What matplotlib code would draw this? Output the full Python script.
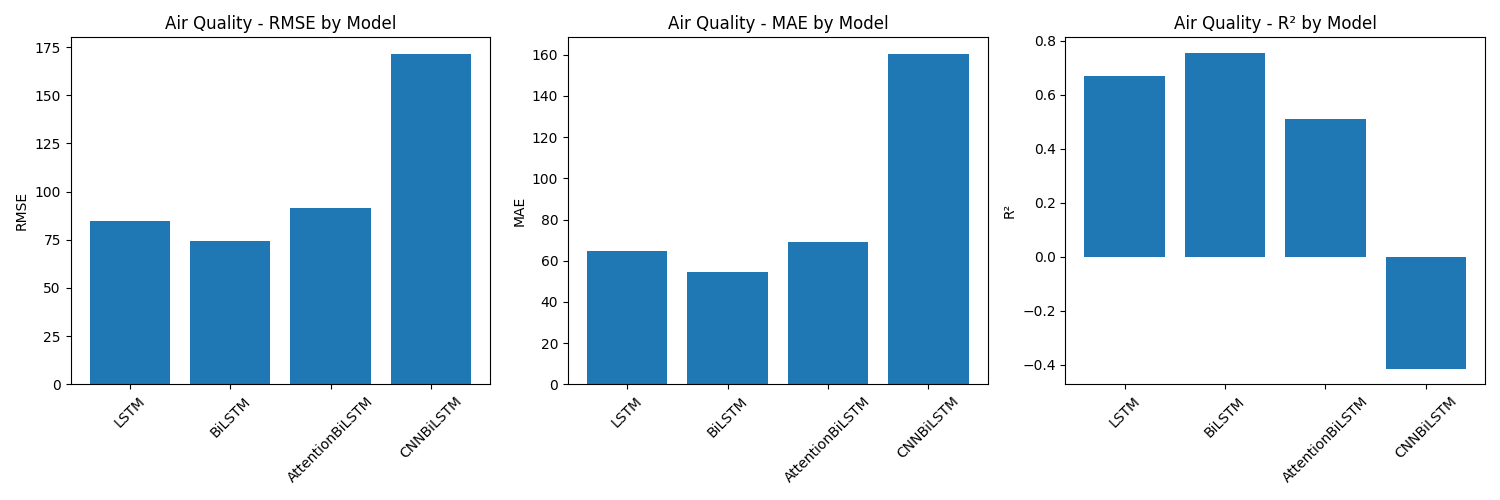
import matplotlib
matplotlib.use('Agg')
import matplotlib.pyplot as plt

models = ['LSTM', 'BiLSTM', 'AttentionBiLSTM', 'CNNBiLSTM']
rmse = [85.0, 74.2, 91.6, 171.5]
mae = [64.6, 54.4, 68.9, 160.4]
r2 = [0.67, 0.755, 0.51, -0.415]

fig, axes = plt.subplots(1, 3, figsize=(15, 5), dpi=100)
for ax, vals, name in zip(axes, [rmse, mae, r2], ['RMSE', 'MAE', 'R²']):
    ax.bar(models, vals, color='#1f77b4')
    ax.set_title(f'Air Quality - {name} by Model')
    ax.set_ylabel(name)
    ax.tick_params(axis='x', labelrotation=45)
fig.tight_layout()
fig.savefig('out.png')
